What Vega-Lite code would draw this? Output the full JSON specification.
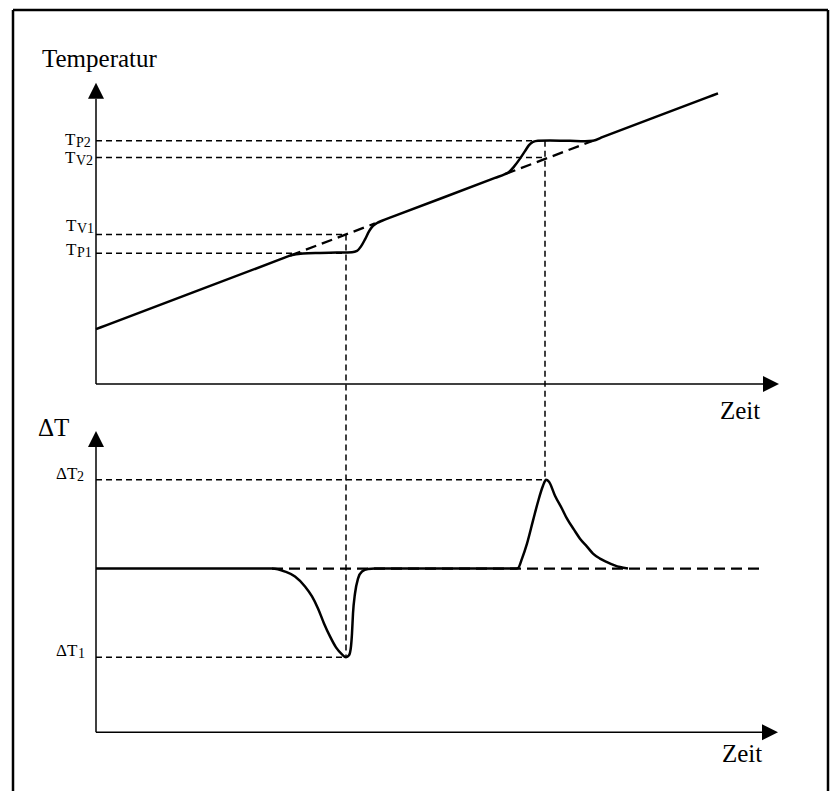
{
  "$schema": "https://vega.github.io/schema/vega-lite/v6.json",
  "width": 830,
  "height": 793,
  "autosize": {"type": "fit", "contains": "padding"},
  "padding": 0,
  "background": "white",
  "config": {"view": {"stroke": null}},
  "datasets": {
    "border": [
      {"x": 13, "y": 10, "x2": 828, "y2": 10},
      {"x": 13, "y": 10, "x2": 13, "y2": 793},
      {"x": 828, "y": 10, "x2": 828, "y2": 793}
    ],
    "axes": [
      {"x": 96, "y": 99, "x2": 96, "y2": 385},
      {"x": 96, "y": 385, "x2": 764, "y2": 385},
      {"x": 96, "y": 447, "x2": 96, "y2": 734},
      {"x": 96, "y": 734, "x2": 764, "y2": 734}
    ],
    "thinDash": [
      {"x": 96, "y": 141, "x2": 535, "y2": 141},
      {"x": 96, "y": 158, "x2": 545, "y2": 158},
      {"x": 96, "y": 235, "x2": 346, "y2": 235},
      {"x": 96, "y": 254, "x2": 346, "y2": 254},
      {"x": 346, "y": 235, "x2": 346, "y2": 659},
      {"x": 545, "y": 141, "x2": 545, "y2": 481},
      {"x": 96, "y": 481, "x2": 545, "y2": 481},
      {"x": 96, "y": 659, "x2": 346, "y2": 659}
    ],
    "thickDash": [
      {"x": 290, "y": 256.3, "x2": 375, "y2": 224},
      {"x": 505, "y": 174.6, "x2": 593, "y2": 141.1},
      {"x": 272, "y": 570, "x2": 760, "y2": 570}
    ],
    "curves": [
      {"c": "T", "i": 1, "x": 96, "y": 330},
      {"c": "T", "i": 2, "x": 106, "y": 326.2},
      {"c": "T", "i": 3, "x": 280, "y": 260.1},
      {"c": "T", "i": 4, "x": 290, "y": 256.3},
      {"c": "T", "i": 5, "x": 303, "y": 254.2},
      {"c": "T", "i": 6, "x": 320, "y": 253.6},
      {"c": "T", "i": 7, "x": 337, "y": 253.2},
      {"c": "T", "i": 8, "x": 352, "y": 252.8},
      {"c": "T", "i": 9, "x": 357, "y": 251.5},
      {"c": "T", "i": 10, "x": 361, "y": 247},
      {"c": "T", "i": 11, "x": 365, "y": 240},
      {"c": "T", "i": 12, "x": 369, "y": 232},
      {"c": "T", "i": 13, "x": 373, "y": 226.5},
      {"c": "T", "i": 14, "x": 377, "y": 223.6},
      {"c": "T", "i": 15, "x": 382, "y": 221.3},
      {"c": "T", "i": 16, "x": 392, "y": 217.5},
      {"c": "T", "i": 17, "x": 495, "y": 178.4},
      {"c": "T", "i": 18, "x": 505, "y": 174.6},
      {"c": "T", "i": 19, "x": 509, "y": 172.5},
      {"c": "T", "i": 20, "x": 514, "y": 167},
      {"c": "T", "i": 21, "x": 520, "y": 159},
      {"c": "T", "i": 22, "x": 525, "y": 151.5},
      {"c": "T", "i": 23, "x": 529, "y": 145.5},
      {"c": "T", "i": 24, "x": 533, "y": 142.2},
      {"c": "T", "i": 25, "x": 538, "y": 141},
      {"c": "T", "i": 26, "x": 550, "y": 140.8},
      {"c": "T", "i": 27, "x": 570, "y": 141.2},
      {"c": "T", "i": 28, "x": 585, "y": 141.6},
      {"c": "T", "i": 29, "x": 593, "y": 141.1},
      {"c": "T", "i": 30, "x": 603, "y": 137.3},
      {"c": "T", "i": 31, "x": 708, "y": 97.4},
      {"c": "T", "i": 32, "x": 718, "y": 93.6},
      {"c": "D", "i": 1, "x": 96, "y": 570},
      {"c": "D", "i": 2, "x": 106, "y": 570},
      {"c": "D", "i": 3, "x": 262, "y": 570},
      {"c": "D", "i": 4, "x": 272, "y": 570},
      {"c": "D", "i": 5, "x": 285, "y": 573},
      {"c": "D", "i": 6, "x": 295, "y": 578},
      {"c": "D", "i": 7, "x": 305, "y": 588},
      {"c": "D", "i": 8, "x": 312, "y": 598},
      {"c": "D", "i": 9, "x": 318, "y": 610},
      {"c": "D", "i": 10, "x": 324, "y": 625},
      {"c": "D", "i": 11, "x": 330, "y": 638},
      {"c": "D", "i": 12, "x": 336, "y": 649},
      {"c": "D", "i": 13, "x": 342, "y": 656},
      {"c": "D", "i": 14, "x": 346, "y": 659},
      {"c": "D", "i": 15, "x": 349, "y": 657},
      {"c": "D", "i": 16, "x": 351, "y": 648},
      {"c": "D", "i": 17, "x": 352, "y": 635},
      {"c": "D", "i": 18, "x": 353, "y": 615},
      {"c": "D", "i": 19, "x": 355, "y": 595},
      {"c": "D", "i": 20, "x": 358, "y": 580},
      {"c": "D", "i": 21, "x": 362, "y": 573},
      {"c": "D", "i": 22, "x": 368, "y": 570.5},
      {"c": "D", "i": 23, "x": 375, "y": 570},
      {"c": "D", "i": 24, "x": 385, "y": 570},
      {"c": "D", "i": 25, "x": 505, "y": 570},
      {"c": "D", "i": 26, "x": 515, "y": 570},
      {"c": "D", "i": 27, "x": 518, "y": 569.5},
      {"c": "D", "i": 28, "x": 522, "y": 560},
      {"c": "D", "i": 29, "x": 527, "y": 545},
      {"c": "D", "i": 30, "x": 533, "y": 522},
      {"c": "D", "i": 31, "x": 538, "y": 503},
      {"c": "D", "i": 32, "x": 543, "y": 487},
      {"c": "D", "i": 33, "x": 546, "y": 481},
      {"c": "D", "i": 34, "x": 549, "y": 483},
      {"c": "D", "i": 35, "x": 555, "y": 497},
      {"c": "D", "i": 36, "x": 562, "y": 510},
      {"c": "D", "i": 37, "x": 567, "y": 520},
      {"c": "D", "i": 38, "x": 574, "y": 531},
      {"c": "D", "i": 39, "x": 580, "y": 540},
      {"c": "D", "i": 40, "x": 587, "y": 548},
      {"c": "D", "i": 41, "x": 593, "y": 555},
      {"c": "D", "i": 42, "x": 600, "y": 560},
      {"c": "D", "i": 43, "x": 607, "y": 563.5},
      {"c": "D", "i": 44, "x": 614, "y": 566.5},
      {"c": "D", "i": 45, "x": 620, "y": 568.5},
      {"c": "D", "i": 46, "x": 628, "y": 570}
    ],
    "arrowsUp": [
      {"x": 96, "y": 91},
      {"x": 96, "y": 440}
    ],
    "arrowsRight": [
      {"x": 771, "y": 385},
      {"x": 770, "y": 734}
    ],
    "bigText": [
      {"t": "Temperatur", "x": 42, "y": 67},
      {"t": "Zeit", "x": 720, "y": 420},
      {"t": "ΔT", "x": 38, "y": 437},
      {"t": "Zeit", "x": 722, "y": 764}
    ],
    "midText": [
      {"t": "T", "x": 65, "y": 145},
      {"t": "T", "x": 65, "y": 163},
      {"t": "T", "x": 66, "y": 232},
      {"t": "T", "x": 66, "y": 256},
      {"t": "ΔT", "x": 56, "y": 480},
      {"t": "ΔT", "x": 56, "y": 658}
    ],
    "subText": [
      {"t": "P2", "x": 76, "y": 147},
      {"t": "V2", "x": 76, "y": 165},
      {"t": "V1", "x": 77, "y": 234},
      {"t": "P1", "x": 77, "y": 258},
      {"t": "2", "x": 77, "y": 482},
      {"t": "1", "x": 78, "y": 660}
    ]
  },
  "encoding": {
    "x": {"field": "x", "type": "quantitative", "scale": {"domain": [0, 830], "nice": false, "zero": false}, "axis": null},
    "y": {"field": "y", "type": "quantitative", "scale": {"domain": [0, 793], "reverse": true, "nice": false, "zero": false}, "axis": null}
  },
  "layer": [
    {
      "data": {"name": "border"},
      "mark": {"type": "rule", "color": "black", "strokeWidth": 2.5},
      "encoding": {"x2": {"field": "x2"}, "y2": {"field": "y2"}}
    },
    {
      "data": {"name": "axes"},
      "mark": {"type": "rule", "color": "black", "strokeWidth": 1.5},
      "encoding": {"x2": {"field": "x2"}, "y2": {"field": "y2"}}
    },
    {
      "data": {"name": "thinDash"},
      "mark": {"type": "rule", "color": "black", "strokeWidth": 1.5, "strokeDash": [6, 4]},
      "encoding": {"x2": {"field": "x2"}, "y2": {"field": "y2"}}
    },
    {
      "data": {"name": "thickDash"},
      "mark": {"type": "rule", "color": "black", "strokeWidth": 2.3, "strokeDash": [11, 6]},
      "encoding": {"x2": {"field": "x2"}, "y2": {"field": "y2"}}
    },
    {
      "data": {"name": "curves"},
      "mark": {"type": "line", "color": "black", "strokeWidth": 2.5, "interpolate": "monotone"},
      "encoding": {"detail": {"field": "c"}, "order": {"field": "i", "type": "quantitative"}}
    },
    {
      "data": {"name": "arrowsUp"},
      "mark": {"type": "point", "shape": "M-1,1L0,-1L1,1Z", "size": 256, "filled": true, "color": "black", "opacity": 1, "strokeWidth": 0}
    },
    {
      "data": {"name": "arrowsRight"},
      "mark": {"type": "point", "shape": "M-1,-1L1,0L-1,1Z", "size": 256, "filled": true, "color": "black", "opacity": 1, "strokeWidth": 0}
    },
    {
      "data": {"name": "bigText"},
      "mark": {"type": "text", "font": "Liberation Serif", "fontSize": 25, "align": "left", "baseline": "alphabetic", "color": "black"},
      "encoding": {"text": {"field": "t"}}
    },
    {
      "data": {"name": "midText"},
      "mark": {"type": "text", "font": "Liberation Serif", "fontSize": 17, "align": "left", "baseline": "alphabetic", "color": "black"},
      "encoding": {"text": {"field": "t"}}
    },
    {
      "data": {"name": "subText"},
      "mark": {"type": "text", "font": "Liberation Serif", "fontSize": 14, "align": "left", "baseline": "alphabetic", "color": "black"},
      "encoding": {"text": {"field": "t"}}
    }
  ]
}
